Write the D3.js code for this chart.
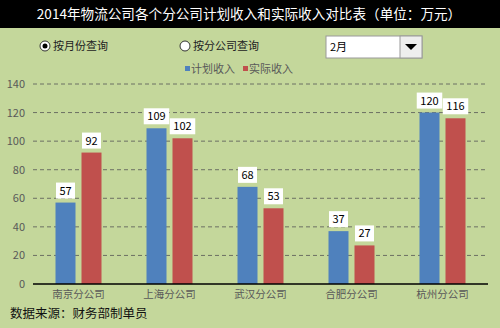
<!DOCTYPE html>
<html><head><meta charset="utf-8">
<script src="https://cdn.jsdelivr.net/npm/d3@7"></script>
<style>body{margin:0;padding:0;background:#fff}svg{display:block}text{font-family:"Noto Sans CJK SC","Liberation Sans",sans-serif}</style>
</head><body><svg id="c" width="500" height="328"></svg>
<script>
const title = "2014年物流公司各个分公司计划收入和实际收入对比表（单位：万元）";
const categories = ["南京分公司","上海分公司","武汉分公司","合肥分公司","杭州分公司"];
const planned = [57,109,68,37,120];
const actual = [92,102,53,27,116];
const seriesNames = ["计划收入","实际收入"];
const yTicks = [0,20,40,60,80,100,120,140];
const source = "数据来源：财务部制单员";
const month = "2月";

const W=500,H=328;
const svg=d3.select("#c");
svg.append("rect").attr("width",W).attr("height",H).attr("fill","#c4d79b");
svg.append("rect").attr("width",W).attr("height",28).attr("fill","#000");
svg.append("text").attr("x",249).attr("y",19).attr("text-anchor","middle").attr("fill","#fff").attr("font-size",13.6).text(title);

// radio buttons
const radios=[{x:45,label:"按月份查询",on:true},{x:185,label:"按分公司查询",on:false}];
radios.forEach(r=>{
  svg.append("circle").attr("cx",r.x).attr("cy",46).attr("r",5).attr("fill","#fff").attr("stroke","#333").attr("stroke-width",1);
  if(r.on) svg.append("circle").attr("cx",r.x).attr("cy",46).attr("r",2.5).attr("fill","#000");
  svg.append("text").attr("x",r.x+8).attr("y",50).attr("font-size",11).attr("fill","#222").text(r.label);
});
// dropdown
svg.append("rect").attr("x",326).attr("y",36).attr("width",96).attr("height",22).attr("fill","#fff").attr("stroke","#999");
svg.append("rect").attr("x",400).attr("y",36).attr("width",22).attr("height",22).attr("fill","#eee").attr("stroke","#999");
svg.append("path").attr("d","M405,44 L417,44 L411,50 Z").attr("fill","#000");
svg.append("text").attr("x",330).attr("y",51).attr("font-size",11).attr("fill","#000").text(month);

const colors=["#4f81bd","#c0504d"];
// legend
const lg=[{x:185},{x:243}];
seriesNames.forEach((n,i)=>{
  svg.append("rect").attr("x",lg[i].x).attr("y",66).attr("width",5).attr("height",5).attr("fill",colors[i]);
  svg.append("text").attr("x",lg[i].x+6).attr("y",73).attr("font-size",11).attr("fill","#595959").text(n);
});

const x0=d3.scaleBand().domain(categories).range([33,488]);
const y=d3.scaleLinear().domain([0,140]).range([284,84]);

const g=svg.append("g");
yTicks.forEach(t=>{
  if(t>0) g.append("line").attr("x1",33).attr("x2",488).attr("y1",y(t)).attr("y2",y(t)).attr("stroke","#555").attr("stroke-dasharray","4,3").attr("stroke-width",0.8);
  g.append("text").attr("x",25).attr("y",y(t)+4).attr("text-anchor","end").attr("font-size",11).attr("fill","#595959").attr("font-family","Liberation Sans").text(t);
});

const bw=20, gap=6;
categories.forEach((c,i)=>{
  const cx=x0(c)+x0.bandwidth()/2;
  [planned[i],actual[i]].forEach((v,j)=>{
    const bx = j===0? cx-gap/2-bw : cx+gap/2;
    g.append("rect").attr("x",bx).attr("y",y(v)).attr("width",bw).attr("height",y(0)-y(v)).attr("fill",colors[j]);
    const s=String(v); const lw=s.length*6.5+6;
    g.append("rect").attr("x",bx+bw/2-lw/2).attr("y",y(v)-20).attr("width",lw).attr("height",16).attr("fill","#fff");
    g.append("text").attr("x",bx+bw/2).attr("y",y(v)-8).attr("text-anchor","middle").attr("font-size",11).attr("fill","#000").attr("font-family","Liberation Sans").text(s);
  });
  g.append("text").attr("x",cx).attr("y",298).attr("text-anchor","middle").attr("font-size",10.5).attr("fill","#595959").text(c);
});
g.append("line").attr("x1",33).attr("x2",488).attr("y1",y(0)).attr("y2",y(0)).attr("stroke","#000").attr("stroke-width",1.5);

svg.append("text").attr("x",10).attr("y",318).attr("font-size",12.5).attr("fill","#111").text(source);
</script></body></html>
